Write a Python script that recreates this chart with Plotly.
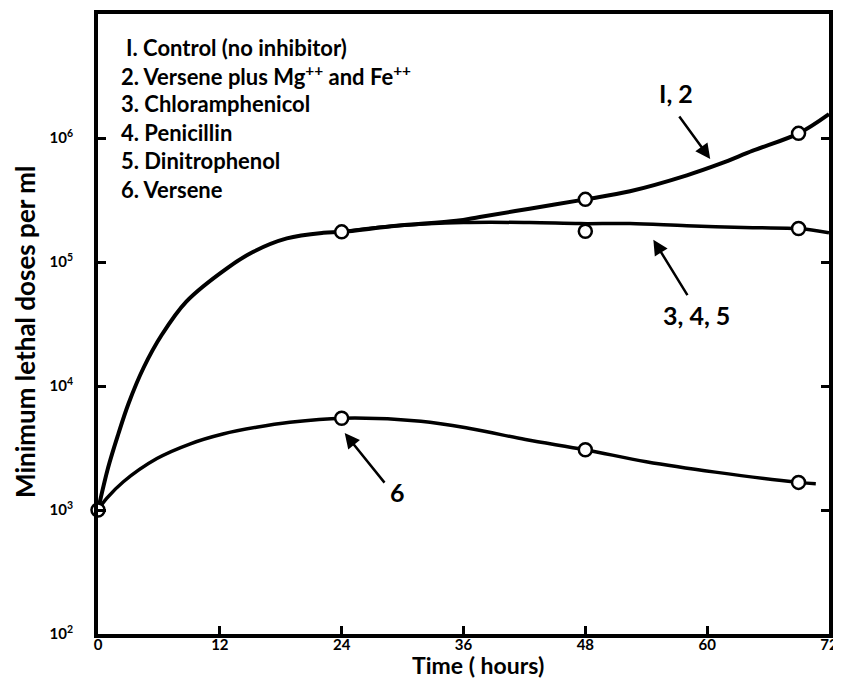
import plotly.graph_objects as go

# ---- data ----
hours_12 = [0, 1.0, 2.0, 3.0, 4.5, 6.3, 8.7, 12.7, 15.3, 18.6, 22.2, 24, 29.4, 35.3, 37.6, 42.5, 48, 52.4, 58.0, 61.3, 64.5, 69, 72]
mld_12 = [1.0e3, 2.2e3, 4.1e3, 7.2e3, 1.41e4, 2.6e4, 4.8e4, 8.9e4, 1.21e5, 1.55e5, 1.72e5, 1.75e5, 1.96e5, 2.15e5, 2.31e5, 2.69e5, 3.2e5, 3.72e5, 5.0e5, 6.2e5, 7.9e5, 1.09e6, 1.56e6]

hours_345 = [24, 29.4, 36.0, 42.5, 47.5, 52.4, 58.0, 64.5, 69, 72]
mld_345 = [1.75e5, 1.96e5, 2.08e5, 2.08e5, 2.04e5, 2.04e5, 1.96e5, 1.89e5, 1.86e5, 1.72e5]

hours_6 = [0, 0.85, 2.5, 5.8, 9.1, 12.3, 15.6, 18.9, 24, 31.8, 36.9, 42.1, 48, 54.0, 60.8, 69, 70.7]
mld_6 = [1.0e3, 1.24e3, 1.69e3, 2.6e3, 3.42e3, 4.1e3, 4.65e3, 5.1e3, 5.5e3, 5.2e3, 4.5e3, 3.7e3, 3.06e3, 2.45e3, 2.02e3, 1.67e3, 1.63e3]

obs_hours = [0, 24, 24, 48, 48, 48, 69, 69, 69]
obs_mld = [1e3, 1.75e5, 5.5e3, 3.2e5, 1.77e5, 3.06e3, 1.09e6, 1.86e5, 1.67e3]

x_ticks = [0, 12, 24, 36, 48, 60, 72]
y_ticks = [1e2, 1e3, 1e4, 1e5, 1e6]
y_ticktext = ["10<sup>2</sup>", "10<sup>3</sup>", "10<sup>4</sup>", "10<sup>5</sup>", "10<sup>6</sup>"]

legend_lines = [
    "I. Control (no inhibitor)",
    "2. Versene plus Mg<sup>++</sup> and Fe<sup>++</sup>",
    "3. Chloramphenicol",
    "4. Penicillin",
    "5. Dinitrophenol",
    "6. Versene",
]

# ---- layout geometry (page body has an 8px margin) ----
OFF = 8
W, H = 833, 670
L, R, T, B = 90, 12, 2, 44
PW, PH = W - L - R, H - T - B
FONT = "Lato"


def px(xs):
    return (xs - OFF - L) / PW


def py(ys):
    return (OFF + H - B - ys) / PH


fig = go.Figure()
line_style = dict(color="black", width=4, shape="spline", smoothing=1.0)
fig.add_trace(go.Scatter(x=hours_12, y=mld_12, mode="lines", line=line_style, hoverinfo="skip"))
fig.add_trace(go.Scatter(x=hours_345, y=mld_345, mode="lines", line=dict(line_style, width=3.5), hoverinfo="skip"))
fig.add_trace(go.Scatter(x=hours_6, y=mld_6, mode="lines", line=dict(line_style, width=3.5), hoverinfo="skip"))
fig.add_trace(go.Scatter(x=obs_hours, y=obs_mld, mode="markers", cliponaxis=False,
                         marker=dict(symbol="circle", size=13, color="white",
                                     line=dict(color="black", width=2.5)), hoverinfo="skip"))

annotations = []
legend_y = [44, 72, 100, 129, 157, 187]
legend_x = [124, 119, 119, 119, 119, 119]
for txt, lx, ly in zip(legend_lines, legend_x, legend_y):
    annotations.append(dict(text=txt, xref="paper", yref="paper", x=px(lx), y=py(ly),
                            xanchor="left", yanchor="middle", showarrow=False,
                            font=dict(family=FONT, size=22, color="black", weight="bold")))

# curve labels with arrows (arrow heads in data coordinates)
arrow = dict(showarrow=True, arrowhead=2, arrowsize=1.2, arrowwidth=2.5, arrowcolor="black",
             axref="pixel", ayref="pixel", text="", xref="x", yref="y")
annotations.append(dict(arrow, x=60.3, y=5.831, ax=-32, ay=-44))
annotations.append(dict(arrow, x=54.7, y=5.18, ax=35, ay=57))
annotations.append(dict(arrow, x=24.3, y=3.62, ax=41, ay=51))
lab_font = dict(family=FONT, size=25, color="black", weight="bold")
for txt, lx, ly in [("I, 2", 676, 90), ("3, 4, 5", 696, 313), ("6", 397, 491)]:
    annotations.append(dict(text=txt, xref="paper", yref="paper", x=px(lx), y=py(ly),
                            xanchor="center", yanchor="middle", showarrow=False, font=lab_font))

# axis titles
annotations.append(dict(text="Time ( hours)", xref="paper", yref="paper", x=px(478), y=py(665),
                        xanchor="center", yanchor="middle", showarrow=False,
                        font=dict(family=FONT, size=23, color="black", weight="bold")))
annotations.append(dict(text="Minimum lethal doses per ml", xref="paper", yref="paper",
                        x=px(25), y=py(330), xanchor="center", yanchor="middle",
                        textangle=-90, showarrow=False,
                        font=dict(family=FONT, size=26, color="black", weight="bold")))

fig.update_layout(
    width=W, height=H,
    margin=dict(l=L, r=R, t=T, b=B),
    paper_bgcolor="white", plot_bgcolor="white",
    showlegend=False,
    annotations=annotations,
    xaxis=dict(range=[0, 72], tickvals=x_ticks, ticks="inside", ticklen=8, tickwidth=3,
               tickcolor="black", showline=True, linewidth=4, linecolor="black", mirror=True,
               showgrid=False, zeroline=False, ticklabelstandoff=-6,
               tickfont=dict(family=FONT, size=15, color="black", weight="bold")),
    yaxis=dict(type="log", range=[2, 7], tickvals=y_ticks, ticktext=y_ticktext,
               ticks="inside", ticklen=8, tickwidth=3, tickcolor="black",
               showline=True, linewidth=4, linecolor="black", mirror="ticks",
               showgrid=False, zeroline=False, ticklabelstandoff=18,
               tickfont=dict(family=FONT, size=15, color="black", weight="bold")),
)

fig.write_html("out.html")
